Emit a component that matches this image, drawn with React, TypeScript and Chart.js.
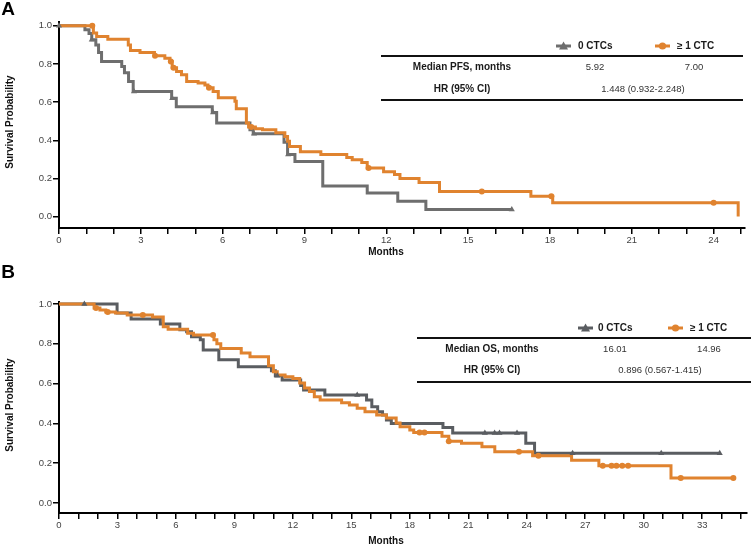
import React, { useEffect, useRef } from "react";
import { Chart, registerables } from "chart.js";
Chart.register(...registerables);

const FONT = '"Liberation Sans", Arial, Helvetica, sans-serif';
const ORANGE = "#E0832F";
const GRAY_A = "#6E6E6E";
const GRAY_B = "#5A5D61";

// ---------- Panel A (PFS) ----------
const A_GRAY_T = [0, 0.95, 1.1, 1.2, 1.35, 1.45, 1.56, 2.3, 2.4, 2.55, 2.72, 4.13, 4.3, 5.62, 5.78, 7.0, 7.12, 8.25, 8.38, 8.65, 9.67, 11.3, 12.42, 13.45, 16.6];
const A_GRAY_S = [1, 0.98, 0.96, 0.927, 0.9, 0.86, 0.813, 0.787, 0.754, 0.708, 0.656, 0.62, 0.576, 0.545, 0.49, 0.455, 0.434, 0.39, 0.325, 0.288, 0.16, 0.123, 0.08, 0.037, 0.037];
const A_GRAY_CENSOR = [0, 1.2, 2.75, 4.15, 5.65, 7.15, 8.4, 16.6];

const A_ORANGE_T = [0, 1.26, 1.38, 1.79, 2.54, 2.62, 2.97, 3.5, 3.88, 4.07, 4.15, 4.31, 4.49, 4.68, 5.1, 5.35, 5.46, 5.65, 5.84, 6.45, 6.5, 6.87, 6.95, 7.2, 7.46, 7.95, 8.28, 8.38, 8.45, 8.85, 9.6, 10.55, 10.75, 11.1, 11.3, 11.9, 12.3, 12.5, 13.2, 13.95, 17.3, 18.1, 24.9];
const A_ORANGE_S = [1, 0.962, 0.944, 0.93, 0.9, 0.871, 0.86, 0.843, 0.83, 0.813, 0.78, 0.76, 0.743, 0.708, 0.7, 0.69, 0.675, 0.656, 0.623, 0.604, 0.565, 0.49, 0.47, 0.46, 0.455, 0.44, 0.42, 0.395, 0.367, 0.34, 0.325, 0.31, 0.298, 0.283, 0.255, 0.235, 0.22, 0.2, 0.178, 0.132, 0.106, 0.073, 0];
const A_ORANGE_CENSOR = [1.22, 3.52, 4.1, 4.2, 5.5, 7.05, 11.35, 15.5, 18.05, 24.0];

const A_X_TICKS = [0, 1, 2, 3, 4, 5, 6, 7, 8, 9, 10, 11, 12, 13, 14, 15, 16, 17, 18, 19, 20, 21, 22, 23, 24, 25];

// ---------- Panel B (OS) ----------
const B_GRAY_T = [0, 2.98, 3.7, 5.2, 6.2, 6.55, 6.8, 7.25, 7.4, 8.2, 9.2, 10.9, 11.1, 11.45, 12.4, 12.55, 13.64, 15.78, 16.05, 16.35, 16.6, 16.8, 17.05, 19.7, 20.2, 23.95, 24.4, 33.9];
const B_GRAY_S = [1, 0.955, 0.925, 0.9, 0.87, 0.86, 0.836, 0.82, 0.769, 0.72, 0.685, 0.665, 0.64, 0.618, 0.59, 0.568, 0.543, 0.518, 0.484, 0.459, 0.442, 0.417, 0.4, 0.38, 0.352, 0.3, 0.25, 0.25];
const B_GRAY_CENSOR = [1.3, 11.2, 15.3, 21.85, 22.35, 22.6, 23.5, 26.35, 30.9, 33.9];

const B_ORANGE_T = [0, 1.8, 2.1, 2.4, 2.9, 3.5, 4.8, 5.35, 5.6, 6.6, 6.9, 7.95, 8.1, 8.3, 9.35, 9.8, 10.75, 11.0, 11.2, 11.6, 12.0, 12.35, 12.6, 12.85, 13.1, 13.4, 14.5, 14.9, 15.3, 15.7, 16.3, 16.8, 17.3, 17.5, 18.0, 18.2, 19.65, 20.0, 20.65, 21.7, 22.36, 24.3, 26.3, 27.7, 31.4, 34.6];
const B_ORANGE_S = [1, 0.98, 0.97, 0.96, 0.955, 0.945, 0.935, 0.886, 0.873, 0.853, 0.844, 0.82, 0.8, 0.777, 0.754, 0.735, 0.69, 0.66, 0.643, 0.635, 0.626, 0.603, 0.578, 0.56, 0.534, 0.518, 0.504, 0.492, 0.476, 0.459, 0.442, 0.427, 0.402, 0.383, 0.367, 0.355, 0.335, 0.31, 0.3, 0.283, 0.258, 0.238, 0.215, 0.187, 0.126, 0.126];
const B_ORANGE_CENSOR = [1.9, 2.5, 4.3, 7.9, 18.5, 18.75, 20.0, 23.6, 24.6, 27.9, 28.35, 28.6, 28.9, 29.2, 31.9, 34.6];

const B_X_TICKS = [0, 1, 2, 3, 4, 5, 6, 7, 8, 9, 10, 11, 12, 13, 14, 15, 16, 17, 18, 19, 20, 21, 22, 23, 24, 25, 26, 27, 28, 29, 30, 31, 32, 33, 34, 35];

const Y_TICKS = [0, 0.2, 0.4, 0.6, 0.8, 1.0];

// ---------- helpers ----------
function stepPoints(T: number[], S: number[]) {
  return T.map((t, i) => ({ x: t, y: S[i] }));
}
function survAt(T: number[], S: number[], t: number) {
  let v = S[0];
  for (let i = 0; i < T.length; i++) if (T[i] <= t) v = S[i];
  return v;
}
function censorPoints(C: number[], T: number[], S: number[]) {
  return C.map((t) => ({ x: t, y: survAt(T, S, t) }));
}

type PanelProps = {
  top: number;
  height: number;
  padTop: number;
  padRight: number;
  xAxisH: number;
  xMax: number;
  yMin: number;
  yMax: number;
  xTicks: number[];
  gray: string;
  grayT: number[];
  grayS: number[];
  grayC: number[];
  orT: number[];
  orS: number[];
  orC: number[];
};

function KMPanel(p: PanelProps) {
  const ref = useRef<HTMLCanvasElement>(null);
  useEffect(() => {
    const tickFont = { family: FONT, size: 9.5 };
    const chart = new Chart(ref.current as HTMLCanvasElement, {
      type: "line",
      data: {
        datasets: [
          {
            data: censorPoints(p.orC, p.orT, p.orS),
            showLine: false,
            pointStyle: "circle",
            pointRadius: 3,
            pointBackgroundColor: ORANGE,
            pointBorderColor: ORANGE,
            pointBorderWidth: 0,
            order: 0,
            clip: 8,
          } as any,
          {
            data: censorPoints(p.grayC, p.grayT, p.grayS),
            showLine: false,
            pointStyle: "triangle",
            pointRadius: 3.5,
            pointBackgroundColor: p.gray,
            pointBorderColor: p.gray,
            pointBorderWidth: 0,
            order: 0,
            clip: 8,
          } as any,
          {
            data: stepPoints(p.orT, p.orS),
            borderColor: ORANGE,
            borderWidth: 3,
            stepped: true,
            pointRadius: 0,
            fill: false,
            borderJoinStyle: "miter",
            order: 1,
          } as any,
          {
            data: stepPoints(p.grayT, p.grayS),
            borderColor: p.gray,
            borderWidth: 3,
            stepped: true,
            pointRadius: 0,
            fill: false,
            borderJoinStyle: "miter",
            order: 2,
          } as any,
        ],
      },
      options: {
        responsive: false,
        animation: false,
        devicePixelRatio: 1,
        layout: { padding: { left: 0, right: p.padRight, top: p.padTop, bottom: 0 } },
        plugins: { legend: { display: false }, tooltip: { enabled: false }, title: { display: false } },
        scales: {
          x: {
            type: "linear",
            min: 0,
            max: p.xMax,
            afterFit: (s: any) => {
              s.height = p.xAxisH;
            },
            afterBuildTicks: (s: any) => {
              s.ticks = p.xTicks.map((v) => ({ value: v }));
            },
            ticks: {
              autoSkip: false,
              maxRotation: 0,
              padding: 1,
              font: tickFont,
              color: "#444",
              callback: (v: any) => (Number(v) % 3 === 0 ? String(v) : ""),
            },
            grid: { drawOnChartArea: false, drawTicks: true, tickLength: 6, color: "#000", lineWidth: 1.5 },
            border: { display: true, color: "#000", width: 2 },
          },
          y: {
            type: "linear",
            min: p.yMin,
            max: p.yMax,
            afterFit: (s: any) => {
              s.width = 59;
            },
            afterBuildTicks: (s: any) => {
              s.ticks = Y_TICKS.map((v) => ({ value: v }));
            },
            ticks: {
              autoSkip: false,
              padding: 1,
              font: tickFont,
              color: "#444",
              callback: (v: any) => Number(v).toFixed(1),
            },
            grid: { drawOnChartArea: false, drawTicks: true, tickLength: 6, color: "#000", lineWidth: 1.5 },
            border: { display: true, color: "#000", width: 2 },
          },
        },
      } as any,
    });
    return () => chart.destroy();
  }, []);
  return (
    <canvas
      ref={ref}
      width={753}
      height={p.height}
      style={{ position: "absolute", left: 0, top: p.top, width: 753, height: p.height }}
    />
  );
}

function Txt(props: { x: number; y: number; children: any; bold?: boolean; size?: number; color?: string; left?: boolean; rotate?: boolean }) {
  const { x, y, children, bold, size = 10, color = "#1a1a1a", left, rotate } = props;
  let tf = left ? "translate(0,-50%)" : "translate(-50%,-50%)";
  if (rotate) tf = "translate(-50%,-50%) rotate(-90deg)";
  return (
    <div
      style={{
        position: "absolute",
        left: x,
        top: y,
        transform: tf,
        fontFamily: FONT,
        fontSize: size,
        fontWeight: bold ? 700 : 400,
        color,
        lineHeight: 1,
        whiteSpace: "nowrap",
      }}
    >
      {children}
    </div>
  );
}

function Rule(props: { x1: number; x2: number; y: number }) {
  return (
    <div style={{ position: "absolute", left: props.x1, top: props.y - 1, width: props.x2 - props.x1, height: 2, background: "#111" }} />
  );
}

function LegendMark(props: { x: number; y: number; color: string; tri?: boolean }) {
  return (
    <svg style={{ position: "absolute", left: props.x, top: props.y - 5 }} width={15} height={10}>
      <line x1={0} y1={5} x2={15} y2={5} stroke={props.color} strokeWidth={3} />
      {props.tri ? (
        <polygon points="7.5,0.5 12,8.5 3,8.5" fill={props.color} />
      ) : (
        <circle cx={7.5} cy={5} r={3.6} fill={props.color} />
      )}
    </svg>
  );
}

export default function App() {
  return (
    <div
      style={{
        position: "fixed",
        left: 0,
        top: 0,
        width: 753,
        height: 548,
        background: "#fff",
        overflow: "hidden",
        fontFamily: FONT,
      }}
    >
      <KMPanel
        top={0}
        height={270}
        padTop={22}
        padRight={8}
        xAxisH={42}
        xMax={25.15}
        yMin={-0.06}
        yMax={1.02}
        xTicks={A_X_TICKS}
        gray={GRAY_A}
        grayT={A_GRAY_T}
        grayS={A_GRAY_S}
        grayC={A_GRAY_CENSOR}
        orT={A_ORANGE_T}
        orS={A_ORANGE_S}
        orC={A_ORANGE_CENSOR}
      />
      <KMPanel
        top={270}
        height={278}
        padTop={32}
        padRight={6}
        xAxisH={35}
        xMax={35.3}
        yMin={-0.05}
        yMax={1.01}
        xTicks={B_X_TICKS}
        gray={GRAY_B}
        grayT={B_GRAY_T}
        grayS={B_GRAY_S}
        grayC={B_GRAY_CENSOR}
        orT={B_ORANGE_T}
        orS={B_ORANGE_S}
        orC={B_ORANGE_CENSOR}
      />

      {/* Panel letters */}
      <Txt x={8} y={8} bold size={19} color="#000">A</Txt>
      <Txt x={8} y={271} bold size={19} color="#000">B</Txt>

      {/* Axis titles */}
      <Txt x={10} y={122} bold rotate color="#111">Survival Probability</Txt>
      <Txt x={10} y={405} bold rotate color="#111">Survival Probability</Txt>
      <Txt x={386} y={252} bold color="#111">Months</Txt>
      <Txt x={386} y={541} bold color="#111">Months</Txt>

      {/* Table A */}
      <LegendMark x={556} y={46} color={GRAY_A} tri />
      <Txt x={578} y={46} bold left>0 CTCs</Txt>
      <LegendMark x={655} y={46} color={ORANGE} />
      <Txt x={677} y={46} bold left>≥ 1 CTC</Txt>
      <Rule x1={381} x2={743} y={56} />
      <Txt x={462} y={67} bold>Median PFS, months</Txt>
      <Txt x={595} y={67} size={9.5} color="#333">5.92</Txt>
      <Txt x={694} y={67} size={9.5} color="#333">7.00</Txt>
      <Txt x={462} y={89} bold>HR (95% CI)</Txt>
      <Txt x={643} y={89} size={9.5} color="#333">1.448 (0.932-2.248)</Txt>
      <Rule x1={381} x2={743} y={100} />

      {/* Table B */}
      <LegendMark x={578} y={328} color={GRAY_B} tri />
      <Txt x={598} y={328} bold left>0 CTCs</Txt>
      <LegendMark x={668} y={328} color={ORANGE} />
      <Txt x={690} y={328} bold left>≥ 1 CTC</Txt>
      <Rule x1={417} x2={751} y={338} />
      <Txt x={492} y={349} bold>Median OS, months</Txt>
      <Txt x={615} y={349} size={9.5} color="#333">16.01</Txt>
      <Txt x={709} y={349} size={9.5} color="#333">14.96</Txt>
      <Txt x={492} y={370} bold>HR (95% CI)</Txt>
      <Txt x={660} y={370} size={9.5} color="#333">0.896 (0.567-1.415)</Txt>
      <Rule x1={417} x2={751} y={382} />
    </div>
  );
}
